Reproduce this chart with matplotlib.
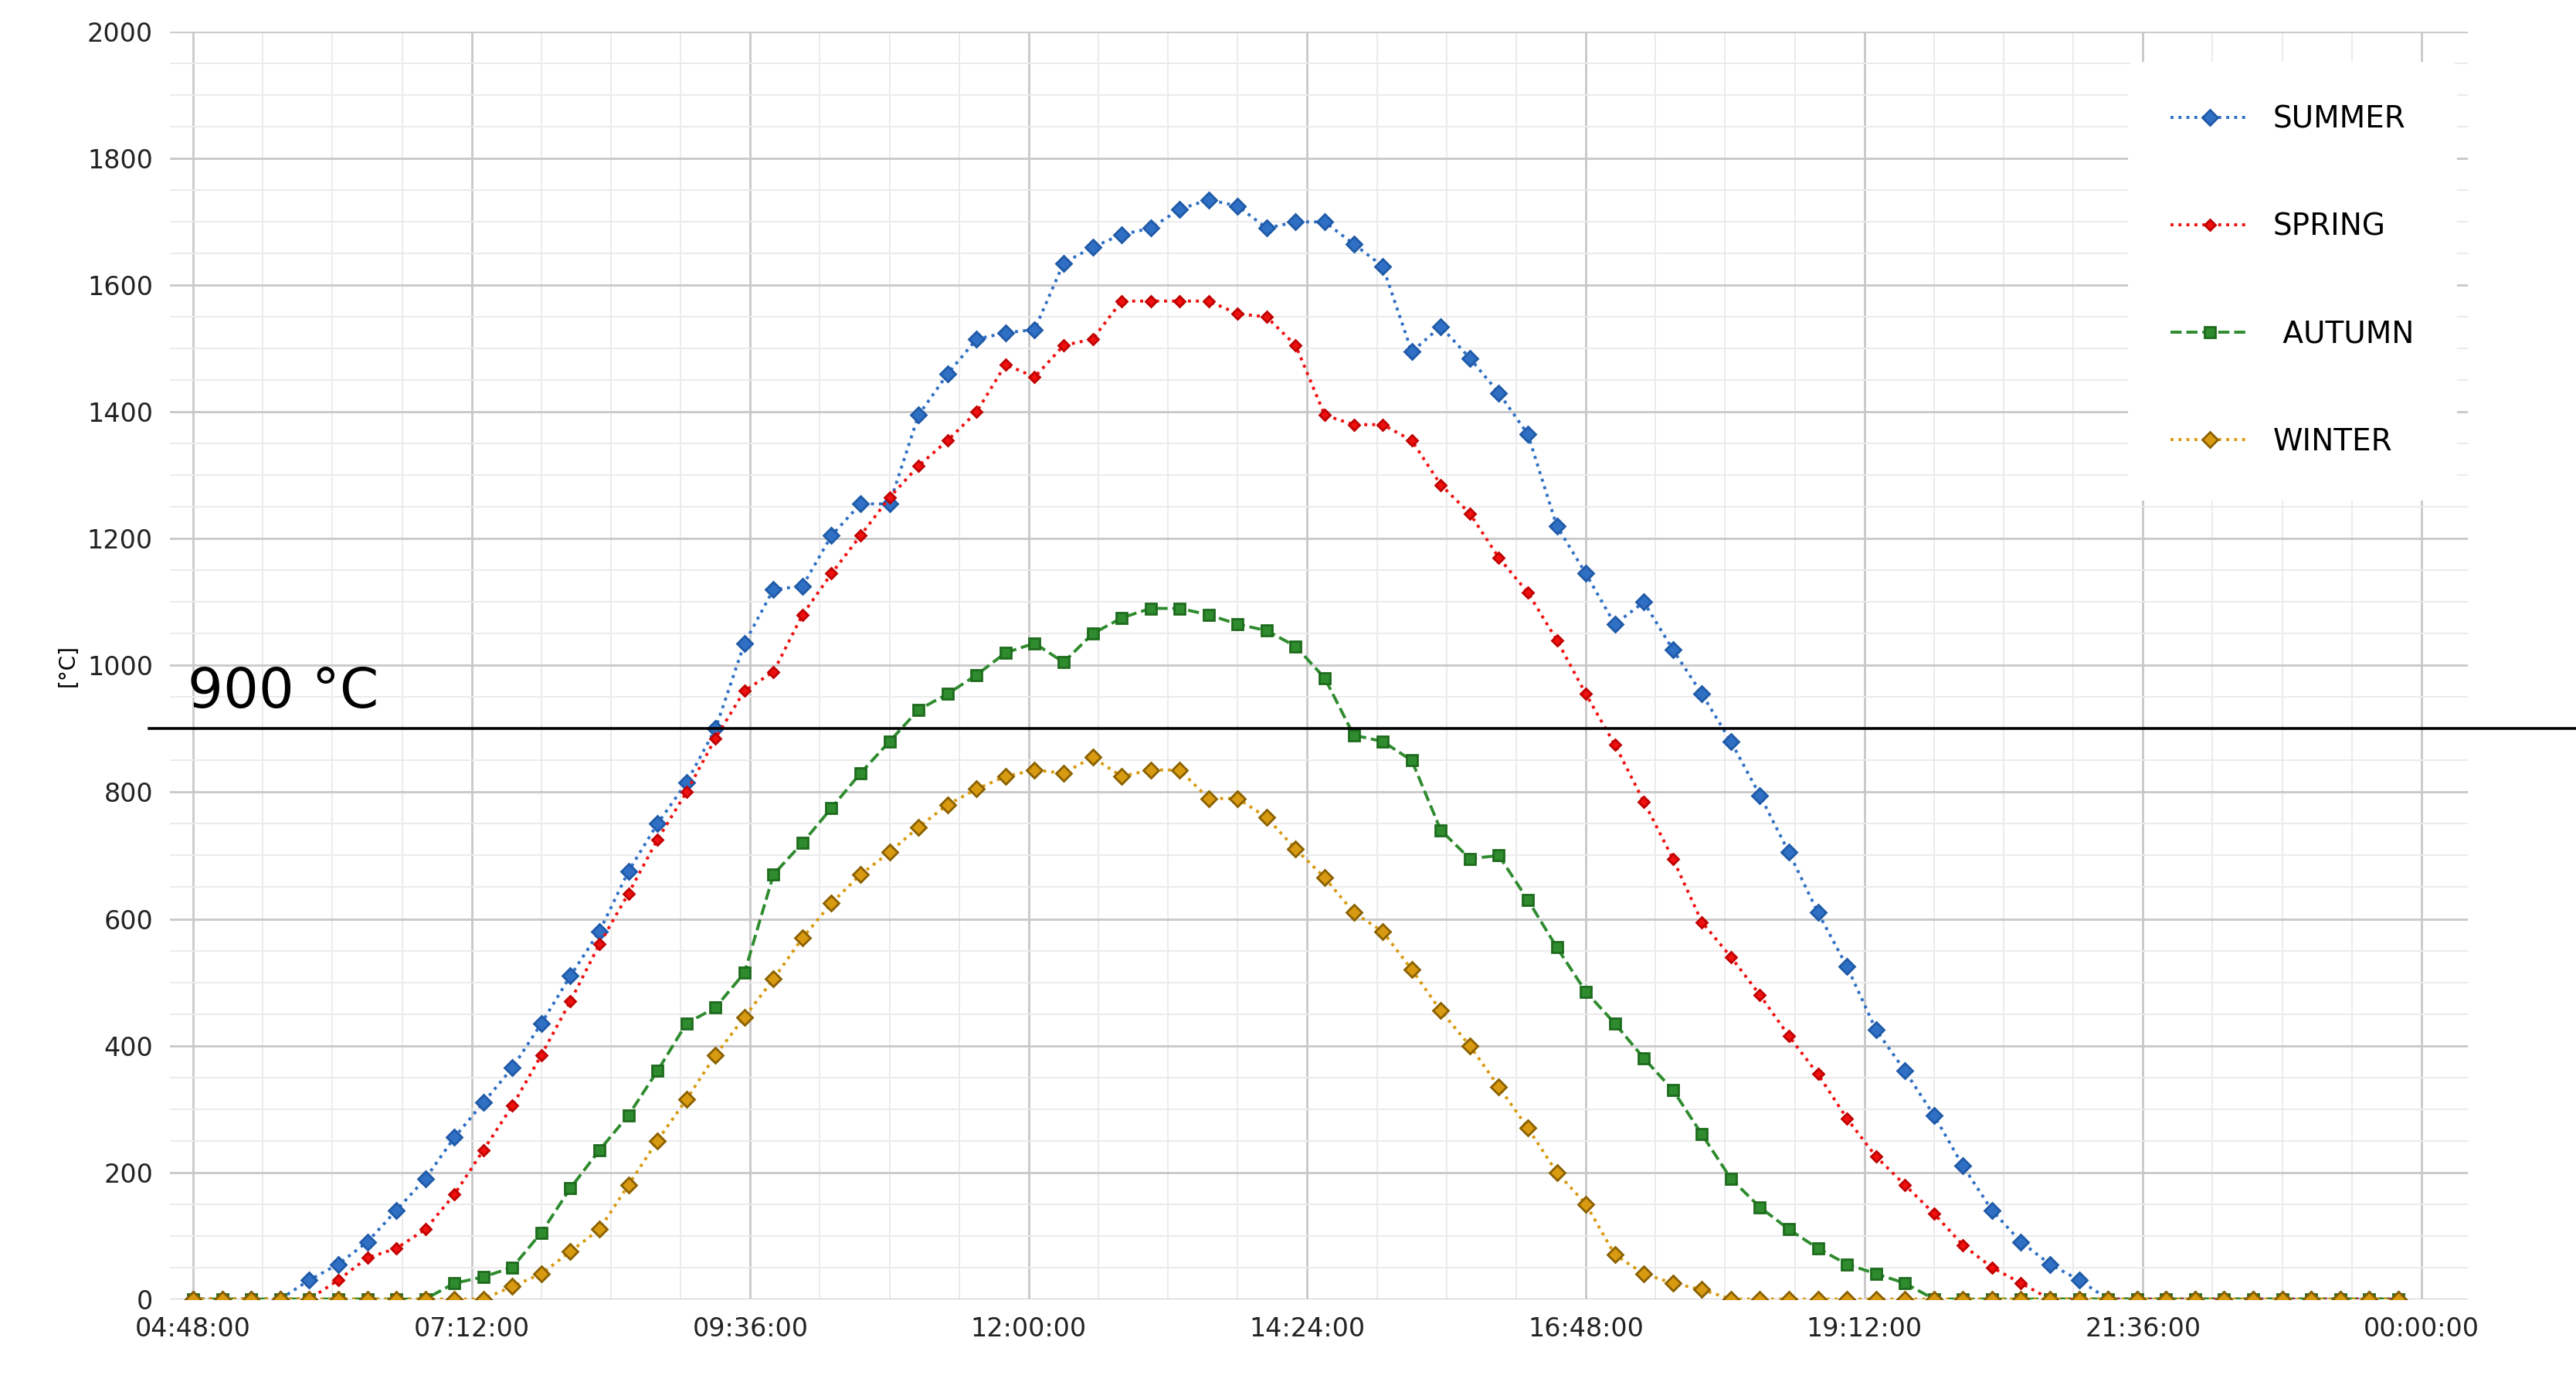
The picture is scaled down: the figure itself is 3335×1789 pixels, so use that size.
import matplotlib.pyplot as plt
import numpy as np
from matplotlib.ticker import MultipleLocator, FuncFormatter

# 15-minute samples from 04:48 to 00:00
times = np.arange(77) * 0.25 + 4.8

summer_start = 4
summer_vals = [30, 55, 90, 140, 190, 255, 310, 365, 435, 510,
               580, 675, 750, 815, 900, 1035, 1120, 1125, 1205, 1255,
               1255, 1395, 1460, 1515, 1525, 1530, 1635, 1660, 1680, 1690,
               1720, 1735, 1725, 1690, 1700, 1700, 1665, 1630, 1495, 1535,
               1485, 1430, 1365, 1220, 1145, 1065, 1100, 1025, 955, 880,
               795, 705, 610, 525, 425, 360, 290, 210, 140, 90,
               55, 30]
spring_start = 5
spring_vals = [30, 65, 80, 110, 165, 235, 305, 385, 470, 560,
               640, 725, 800, 885, 960, 990, 1080, 1145, 1205, 1265,
               1315, 1355, 1400, 1475, 1455, 1505, 1515, 1575, 1575, 1575,
               1575, 1555, 1550, 1505, 1395, 1380, 1380, 1355, 1285, 1240,
               1170, 1115, 1040, 955, 875, 785, 695, 595, 540, 480,
               415, 355, 285, 225, 180, 135, 85, 50, 25]
autumn_start = 9
autumn_vals = [25, 35, 50, 105, 175, 235, 290, 360, 435, 460,
               515, 670, 720, 775, 830, 880, 930, 955, 985, 1020,
               1035, 1005, 1050, 1075, 1090, 1090, 1080, 1065, 1055, 1030,
               980, 890, 880, 850, 740, 695, 700, 630, 555, 485,
               435, 380, 330, 260, 190, 145, 110, 80, 55, 40,
               25]
winter_start = 11
winter_vals = [20, 40, 75, 110, 180, 250, 315, 385, 445, 505,
               570, 625, 670, 705, 745, 780, 805, 825, 835, 830,
               855, 825, 835, 835, 790, 790, 760, 710, 665, 610,
               580, 520, 455, 400, 335, 270, 200, 150, 70, 40,
               25, 15]


def pad(start, vals):
    y = np.zeros(len(times))
    y[start:start + len(vals)] = vals
    return y


fig = plt.figure(figsize=(16.675, 8.945), dpi=200)
ax = fig.add_axes([0.066, 0.06, 0.892, 0.917])

ax.plot(times, pad(summer_start, summer_vals), ':', color='#2F6FC4', lw=1.4,
        marker='D', ms=5, mec='#1F5AA8', label='SUMMER')
ax.plot(times, pad(spring_start, spring_vals), ':', color='#F01010', lw=1.4,
        marker='D', ms=3.5, mec='#C00000', label='SPRING')
ax.plot(times, pad(autumn_start, autumn_vals), '--', color='#2E8B2E', lw=1.4,
        marker='s', ms=5, mec='#1E6B1E', label=' AUTUMN')
ax.plot(times, pad(winter_start, winter_vals), ':', color='#D89A10', lw=1.4,
        marker='D', ms=5, mec='#8A6000', label='WINTER')

# 900 degree threshold line, extending past the axes
ax.plot([-0.009, 1.07], [900, 900], color='black', lw=1.3,
        transform=ax.get_yaxis_transform(), clip_on=False)
ax.text(4.75, 915, '900 °C', fontsize=26, va='bottom', ha='left')

ax.set_xlim(4.6, 24.4)
ax.set_ylim(0, 2000)
ax.xaxis.set_major_locator(MultipleLocator(2.4))
ax.xaxis.set_minor_locator(MultipleLocator(0.6))
ax.yaxis.set_major_locator(MultipleLocator(200))
ax.yaxis.set_minor_locator(MultipleLocator(50))


def fmt(v, pos):
    h = int(round(v * 60)) // 60 % 24
    m = int(round(v * 60)) % 60
    return f'{h:02d}:{m:02d}:00'


ax.xaxis.set_major_formatter(FuncFormatter(fmt))
ax.grid(which='major', color='#C8C8C8', lw=1.0)
ax.grid(which='minor', color='#EBEBEB', lw=0.7)
ax.set_axisbelow(True)
ax.tick_params(which='both', length=0, labelsize=12, pad=8, labelcolor='#222222')
for s in ax.spines.values():
    s.set_visible(False)
ax.set_ylabel('[°C]', fontsize=10)

leg = ax.legend(loc='upper right', bbox_to_anchor=(1.0, 0.985), frameon=True,
                fontsize=14, labelspacing=2.6, handlelength=2.6,
                borderpad=1.4, borderaxespad=0.4)
leg.get_frame().set_edgecolor('white')
leg.get_frame().set_facecolor('white')
leg.get_frame().set_alpha(1)

fig.savefig('out.png')
